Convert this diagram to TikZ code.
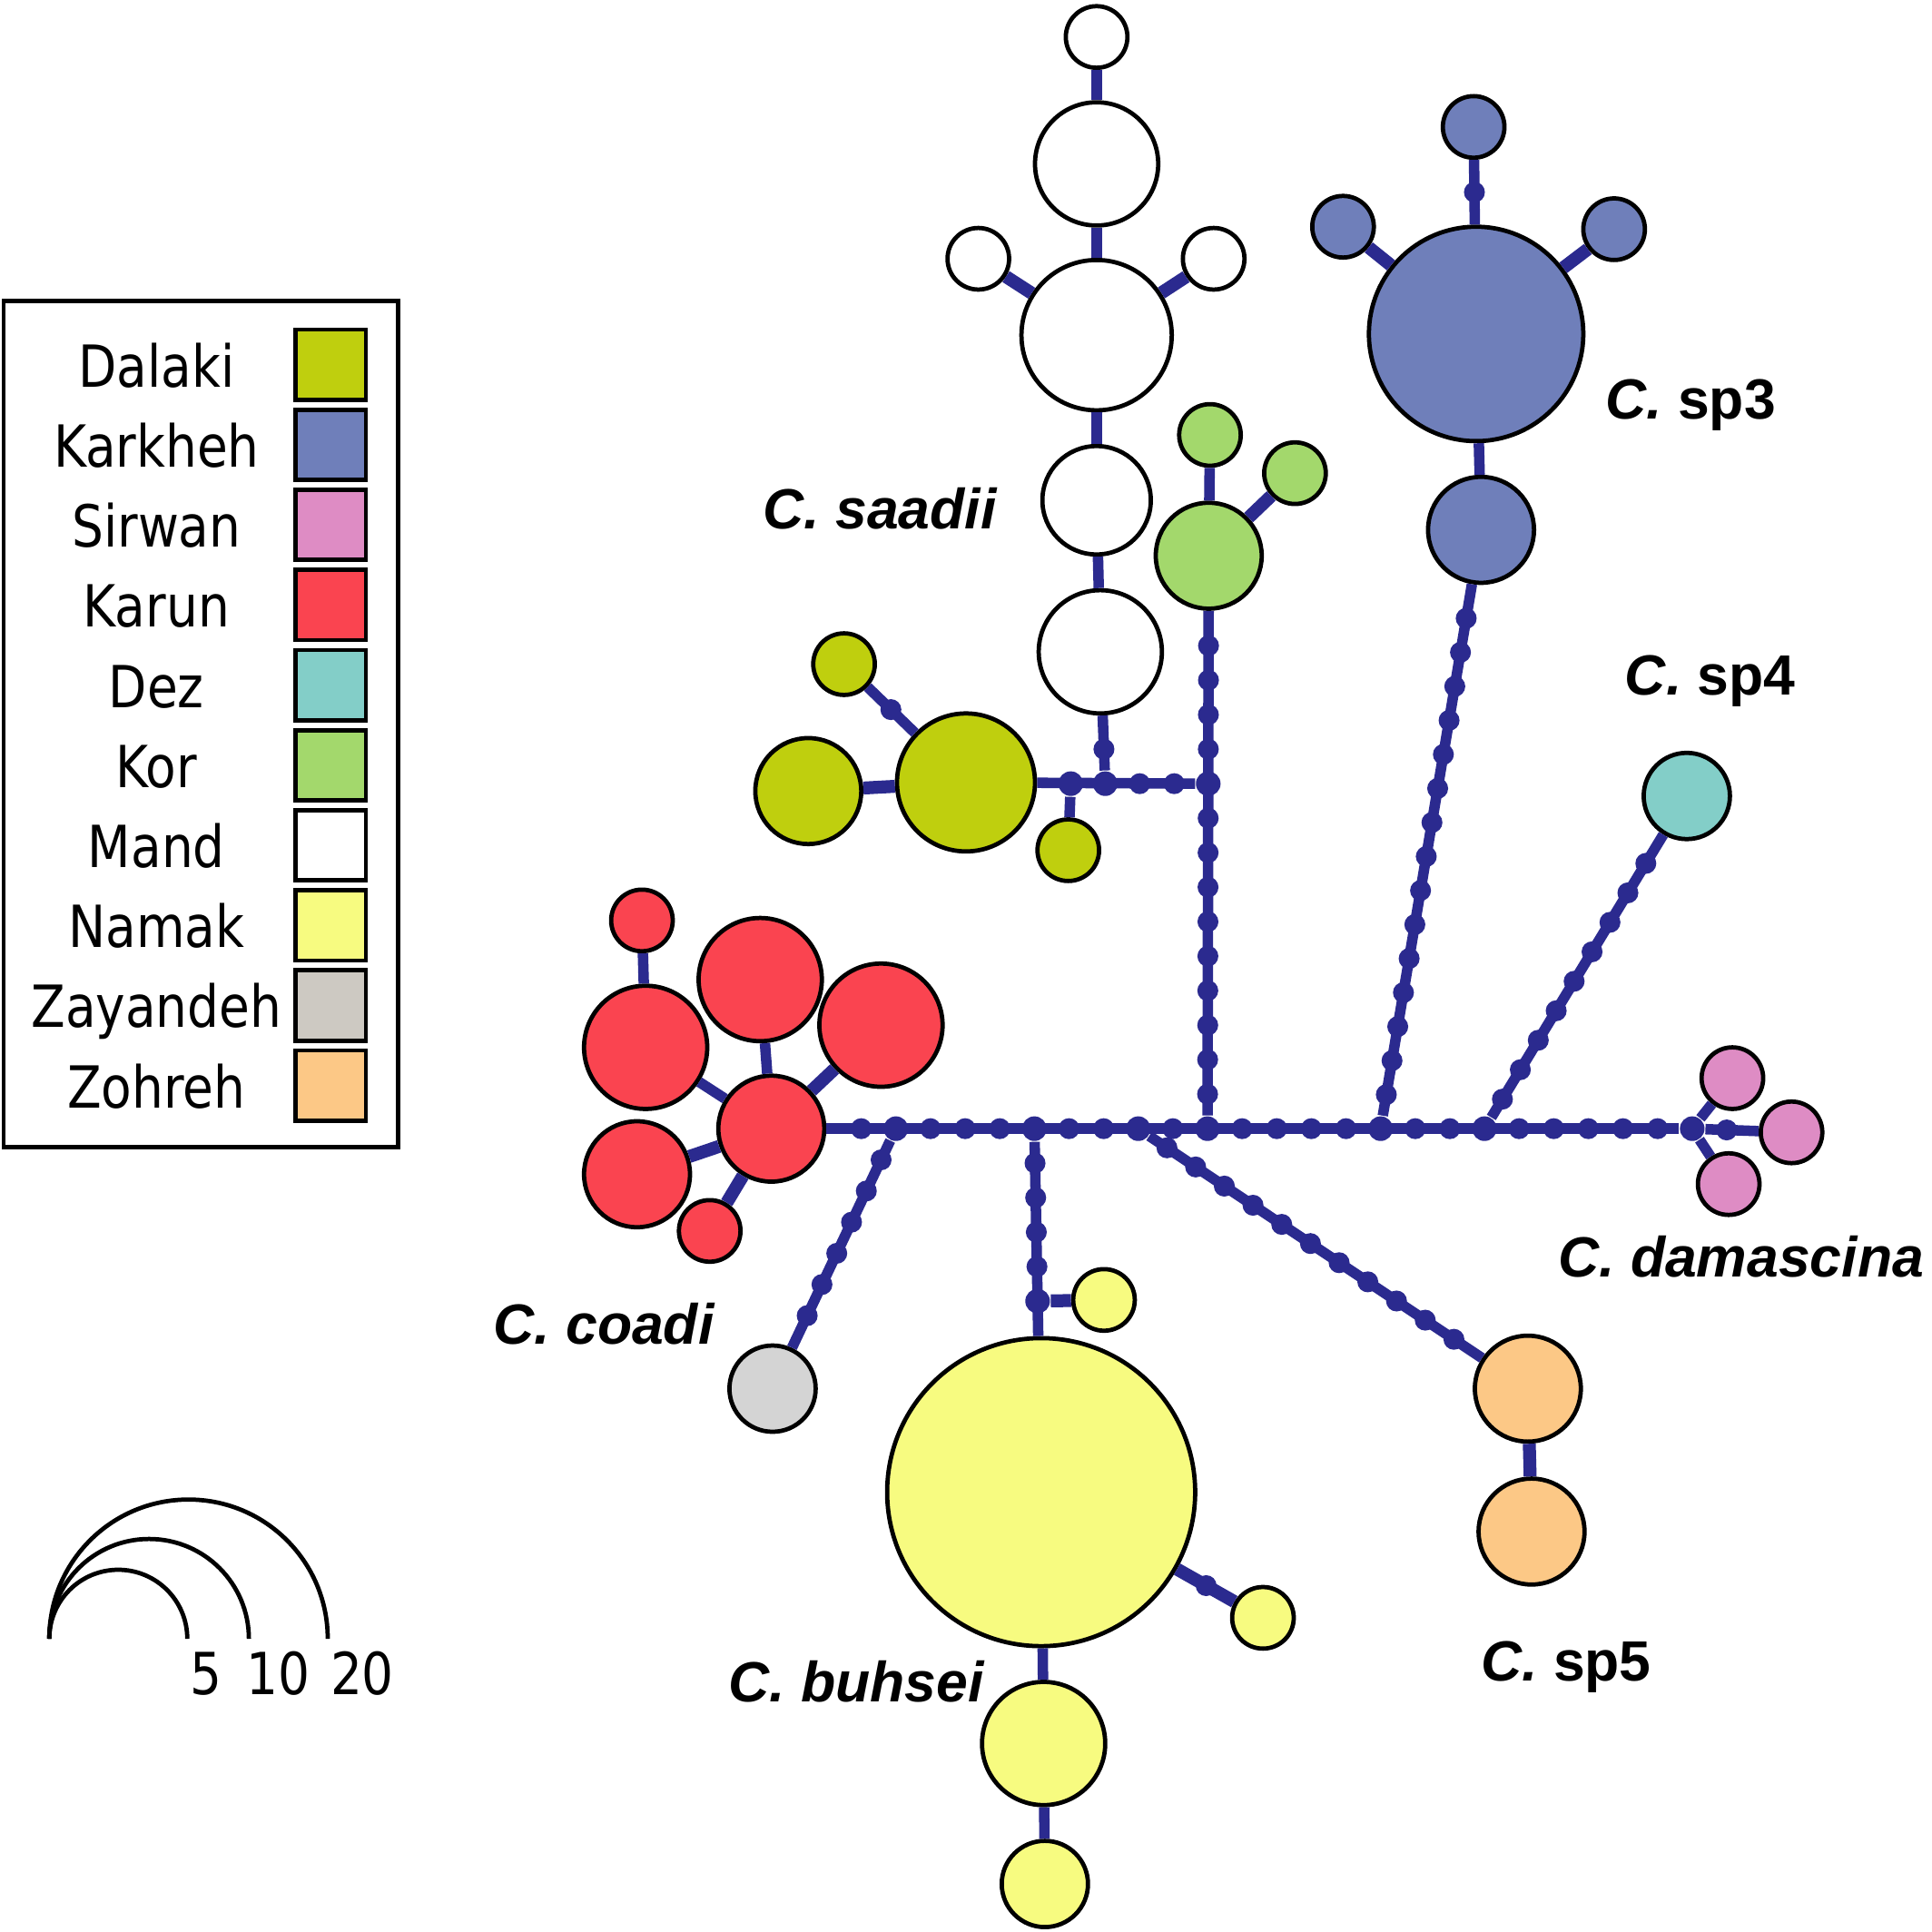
\documentclass[tikz,border=0pt]{standalone}
\usepackage{fontspec}
\usepackage{tikz}
\usetikzlibrary{calc}
\newfontfamily\legfont[FakeStretch=0.86]{DejaVu Sans}
\newfontfamily\spfont{Liberation Sans}
\definecolor{netblue}{RGB}{43,42,143}
\definecolor{dalaki}{RGB}{191,207,14}
\definecolor{kark}{RGB}{111,127,186}
\definecolor{sirwan}{RGB}{222,140,196}
\definecolor{karun}{RGB}{250,68,80}
\definecolor{dez}{RGB}{131,206,200}
\definecolor{kor}{RGB}{163,216,108}
\definecolor{namak}{RGB}{247,251,128}
\definecolor{zayleg}{RGB}{205,201,194}
\definecolor{zaycirc}{RGB}{212,212,212}
\definecolor{zohreh}{RGB}{252,200,134}
\tikzstyle{edge}=[draw=netblue,line width=0.85mm]
\tikzstyle{wide}=[draw=netblue,line width=1.05mm]
\tikzstyle{mut}=[fill=netblue,circle,minimum size=1.7mm,inner sep=0pt]
\tikzstyle{med}=[fill=netblue,circle,minimum size=2mm,inner sep=0pt]
\tikzstyle{swatch}=[draw,line width=0.35mm,minimum width=5.7mm,minimum height=5.7mm,inner sep=0pt]
\tikzstyle{legtext}=[anchor=base,inner sep=0pt,font=\legfont\fontsize{13.4}{16}\selectfont]
\tikzstyle{sp}=[anchor=base,inner sep=0pt,font=\spfont\fontsize{13.1}{16}\selectfont\bfseries]
\tikzset{hap/.style={draw,circle,line width=0.35mm,inner sep=0pt,minimum size=#1*0.2mm}}

\begin{document}
\begin{tikzpicture}[x=0.1mm,y=-0.1mm]
\useasboundingbox (0,0) rectangle (1568,1568);

% haplotypes
\node [hap=25,fill=white] (mand1) at (890,30) {};
\node [hap=50,fill=white] (mand2) at (890,133) {};
\node [hap=25,fill=white] (mand3) at (794,210) {};
\node [hap=25,fill=white] (mand4) at (985,210) {};
\node [hap=61,fill=white] (mand5) at (890,272) {};
\node [hap=44,fill=white] (mand6) at (890,406) {};
\node [hap=50,fill=white] (mand7) at (893,529) {};

\node [hap=25,fill=kark] (kark1) at (1196,103) {};
\node [hap=25,fill=kark] (kark2) at (1090,184) {};
\node [hap=25,fill=kark] (kark3) at (1310,186) {};
\node [hap=87,fill=kark] (kark4) at (1198,271) {};
\node [hap=43,fill=kark] (kark5) at (1202,430) {};

\node [hap=25,fill=kor] (kor1) at (982,353) {};
\node [hap=25,fill=kor] (kor2) at (1051,384) {};
\node [hap=43,fill=kor] (kor3) at (981,451) {};

\node [hap=25,fill=dalaki] (dal1) at (685,539) {};
\node [hap=43,fill=dalaki] (dal2) at (656,642) {};
\node [hap=56,fill=dalaki] (dal3) at (784,635) {};
\node [hap=25,fill=dalaki] (dal4) at (867,690) {};

\node [hap=25,fill=karun] (kar1) at (521,747) {};
\node [hap=50,fill=karun] (kar2) at (617,795) {};
\node [hap=50,fill=karun] (kar3) at (524,850) {};
\node [hap=50,fill=karun] (kar4) at (715,832) {};
\node [hap=43,fill=karun] (kar5) at (626,916) {};
\node [hap=43,fill=karun] (kar6) at (517,953) {};
\node [hap=25,fill=karun] (kar7) at (576,999) {};

\node [hap=35,fill=dez] (dez1) at (1369,646) {};
\node [hap=25,fill=sirwan] (sir1) at (1406,875) {};
\node [hap=25,fill=sirwan] (sir2) at (1454,919) {};
\node [hap=25,fill=sirwan] (sir3) at (1403,961) {};
\node [hap=35,fill=zaycirc] (zay1) at (627,1127) {};

\node [hap=25,fill=namak] (nam1) at (896,1055) {};
\node [hap=125,fill=namak] (nam2) at (845,1211) {};
\node [hap=25,fill=namak] (nam3) at (1025,1313) {};
\node [hap=50,fill=namak] (nam4) at (847,1415) {};
\node [hap=35,fill=namak] (nam5) at (848,1529) {};

\node [hap=43,fill=zohreh] (zoh1) at (1240,1127) {};
\node [hap=43,fill=zohreh] (zoh2) at (1243,1243) {};

% main line
\foreach \k in {0,2,3,4,6,7,9,11,12,13,14,16,17,19,20,21,22,23}
  \node [mut] (c\k) at ({699+28.1*\k},916) {};
\foreach \k in {1,5,8,10,15,18,24}
  \node [med] (c\k) at ({699+28.1*\k},916) {};
\draw [edge] (kar5) -- (c24);

% branches with mutation steps
\foreach \k in {1,...,14}
  \node [mut] (korb\k) at ($(c10)!\k*2.8mm!(kor3)$) {};
\node [med] (korb10) at ($(c10)!28mm!(kor3)$) {};
\draw [edge] (c10) -- (kor3);
\foreach \k in {1,...,15}
  \node [mut] (karkb\k) at ($(c15)!\k*2.8mm!(kark5)$) {};
\draw [edge] (c15) -- (kark5);
\foreach \k in {1,...,9}
  \node [mut] (dezb\k) at ($(c18)!\k*2.8mm!(dez1)$) {};
\draw [edge] (c18) -- (dez1);
\foreach \k in {1,...,11}
  \node [mut] (zohb\k) at ($(c8)!\k*2.8mm!(zoh1)$) {};
\draw [edge] (c8) -- (zoh1);
\foreach \k in {1,...,6}
  \node [mut] (zayb\k) at ($(c1)!\k*2.8mm!(zay1)$) {};
\draw [edge] (c1) -- (zay1);
\foreach \k in {1,...,4}
  \node [mut] (namb\k) at ($(c5)!\k*2.8mm!(nam2)$) {};
\node [med] (namb5) at ($(c5)!14mm!(nam2)$) {};
\draw [edge] (c5) -- (nam2);

% Dalaki / Mand link
\node [mut] (h1) at (953,636) {};
\node [mut] (h2) at (925,636) {};
\node [med] (h3) at (897,636) {};
\node [med] (h4) at (869,636) {};
\draw [edge] (korb10) -- (dal3);
\node [mut] (mandb) at ($(h3)!2.8mm!(mand7)$) {};
\draw [edge] (h3) -- (mand7);
\draw [edge] (h4) -- (dal4);

% short edges
\draw [edge] (mand1) -- (mand2);
\draw [edge] (mand2) -- (mand5);
\draw [wide] (mand3) -- (mand5);
\draw [wide] (mand4) -- (mand5);
\draw [edge] (mand5) -- (mand6);
\draw [edge] (mand6) -- (mand7);
\node [mut] (karkb0) at ($(kark1)!5.3mm!(kark4)$) {};
\draw [edge] (kark1) -- (kark4);
\draw [wide] (kark2) -- (kark4);
\draw [wide] (kark3) -- (kark4);
\draw [edge] (kark4) -- (kark5);
\draw [edge] (kor1) -- (kor3);
\draw [wide] (kor2) -- (kor3);
\node [mut] (dalb) at ($(dal1)!5.3mm!(dal3)$) {};
\draw [edge] (dal1) -- (dal3);
\draw [wide] (dal2) -- (dal3);
\draw [edge] (kar1) -- (kar3);
\draw [edge] (kar2) -- (kar5);
\draw [edge] (kar3) -- (kar5);
\draw [wide] (kar4) -- (kar5);
\draw [wide] (kar6) -- (kar5);
\draw [wide] (kar7) -- (kar5);
\node [mut] (sirb) at ($(c24)!2.8mm!(sir2)$) {};
\draw [edge] (c24) -- (sir2);
\draw [edge] (c24) -- (sir1);
\draw [edge] (c24) -- (sir3);
\draw [wide] (namb5) -- (nam1);
\node [mut] (namb6) at ($(nam3)!5.3mm!(nam2)$) {};
\draw [wide] (nam2) -- (nam3);
\draw [edge] (nam2) -- (nam4);
\draw [edge] (nam4) -- (nam5);
\draw [wide] (zoh1) -- (zoh2);

% species
\node [sp] (saadii) at (714,429) {\itshape C. saadii};
\node [sp] (sp3) at (1372,340) {{\itshape C.} sp3};
\node [sp] (sp4) at (1388,564) {{\itshape C.} sp4};
\node [sp] (damascina) at (1413,1036) {\itshape C. damascina};
\node [sp] (coadi) at (490,1091) {\itshape C. coadi};
\node [sp] (buhsei) at (695,1381) {\itshape C. buhsei};
\node [sp] (sp5) at (1271,1364) {{\itshape C.} sp5};

% legend
\draw [line width=0.35mm] (3,244) rectangle (323,931);
\foreach \name/\col [count=\i from 0] in {Dalaki/dalaki,Karkheh/kark,Sirwan/sirwan,Karun/karun,Dez/dez,Kor/kor,Mand/white,Namak/namak,Zayandeh/zayleg,Zohreh/zohreh}
{
  \node [legtext] (lt\i) at (127,{314+65*\i}) {\name};
  \node [swatch,fill=\col] (ls\i) at (268.5,{296+65*\i}) {};
}

% size scale
\draw [line width=0.35mm] (40,1330) arc [start angle=180,end angle=0,radius=5.6mm];
\draw [line width=0.35mm] (40,1330) arc [start angle=180,end angle=0,radius=8.1mm];
\draw [line width=0.35mm] (40,1330) arc [start angle=180,end angle=0,radius=11.3mm];
\node [legtext] (s5) at (167,1375) {5};
\node [legtext] (s10) at (226,1375) {10};
\node [legtext] (s20) at (294,1375) {20};
\end{tikzpicture}
\end{document}
